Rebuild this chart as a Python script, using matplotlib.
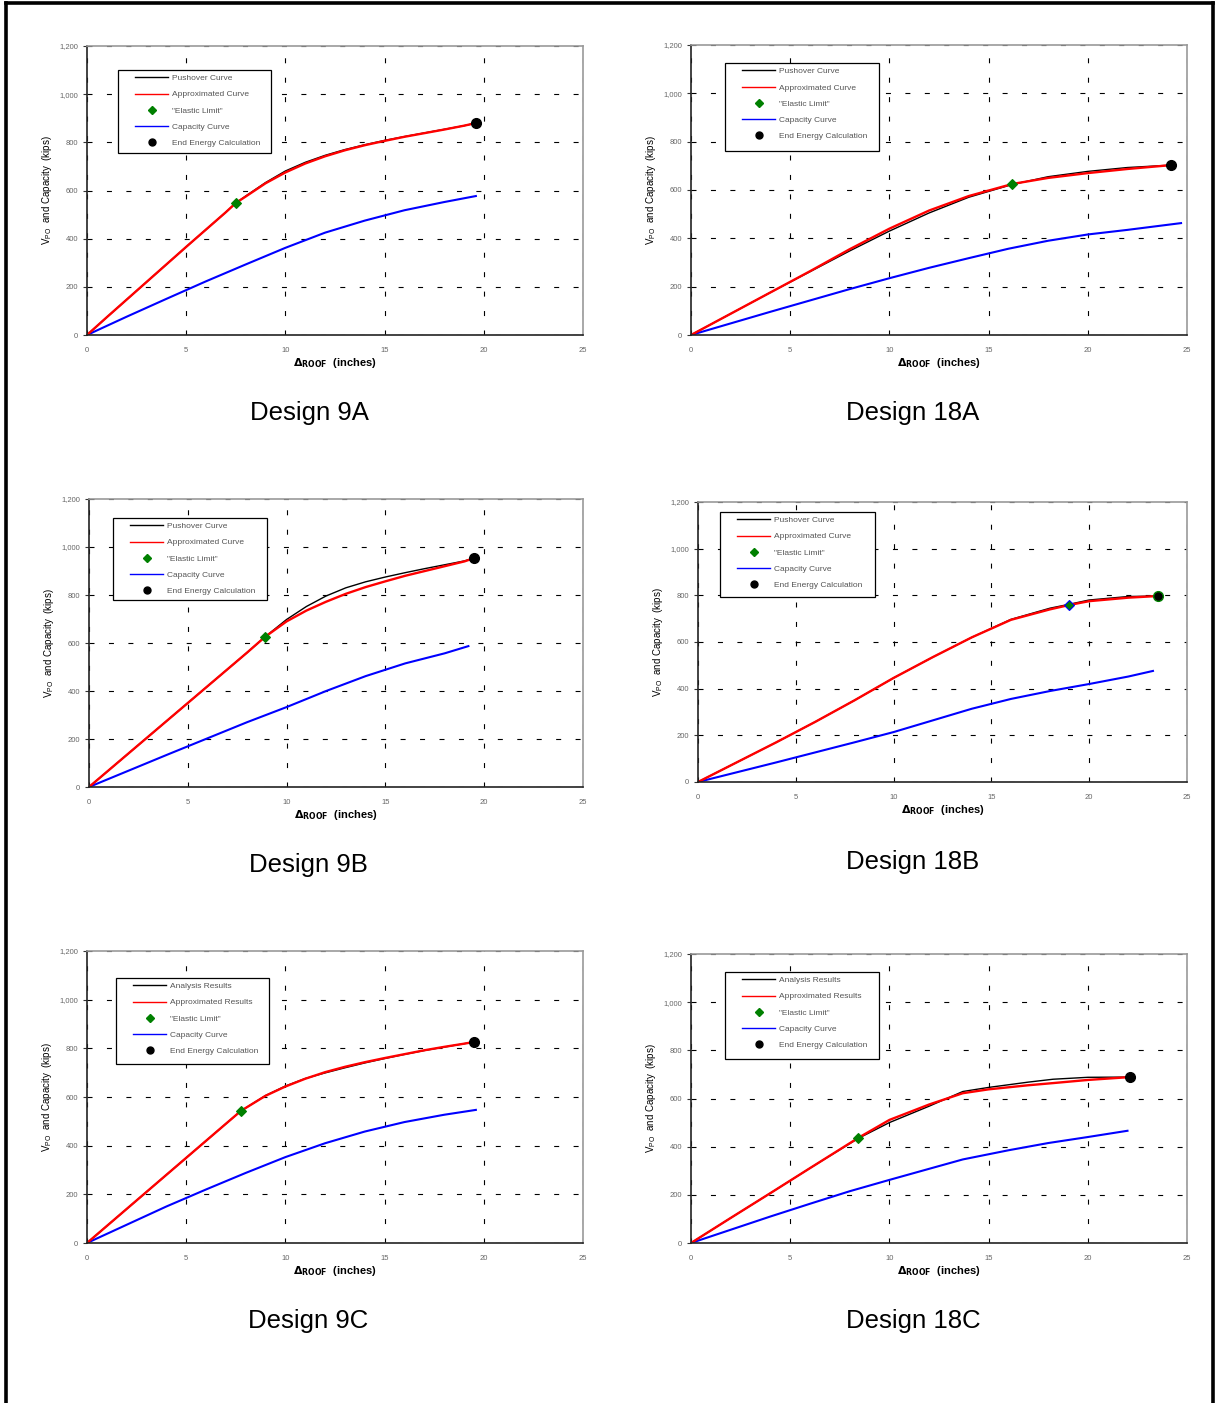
import matplotlib.pyplot as plt
from matplotlib.lines import Line2D
from matplotlib.patches import Rectangle
from matplotlib.ticker import FuncFormatter

plt.rcParams['font.family'] = ['Liberation Sans', 'DejaVu Sans']

# ---- data (x in inches, y in kips) ----
# Design 9A
d9a_x = [0, 1, 2, 3, 4, 5, 6, 7, 7.5, 8, 9, 10, 11, 12, 13, 14, 15, 16, 17, 18, 19, 19.6]
d9a_push = [0, 74, 147, 220, 293, 366, 438, 510, 548, 577, 633, 681, 717, 746, 770, 790, 808, 824, 839, 854, 869, 880]
d9a_approx = [0, 74, 147, 220, 293, 366, 438, 510, 548, 575, 630, 675, 712, 742, 767, 788, 806, 823, 838, 853, 869, 880]
d9a_cap_x = [0, 2, 4, 6, 8, 10, 12, 14, 16, 18, 19.6]
d9a_cap = [0, 76, 150, 223, 293, 362, 425, 475, 518, 552, 577]
d9a_elastic = (7.5, 548)
d9a_end = (19.6, 880)

# Design 18A
d18a_x = [0, 2, 4, 6, 8, 10, 12, 14, 16.2, 18, 20, 22, 24.2]
d18a_push = [0, 88, 176, 262, 348, 430, 505, 570, 623, 655, 677, 693, 703]
d18a_approx = [0, 88, 176, 264, 355, 440, 515, 575, 625, 650, 670, 687, 703]
d18a_cap_x = [0, 2, 4, 6, 8, 10, 12, 14, 16, 18, 20, 22, 24.7]
d18a_cap = [0, 48, 96, 143, 190, 235, 278, 318, 357, 390, 416, 435, 463]
d18a_elastic = (16.2, 625)
d18a_end = (24.2, 703)

# Design 9B
d9b_x = [0, 1, 2, 3, 4, 5, 6, 7, 8, 8.9, 10, 11, 12, 13, 14, 15, 16, 17, 18, 19, 19.5]
d9b_push = [0, 70, 140, 210, 280, 350, 420, 490, 560, 625, 698, 752, 796, 830, 855, 875, 893, 910, 926, 942, 954]
d9b_approx = [0, 70, 140, 210, 280, 350, 420, 490, 560, 625, 690, 735, 772, 805, 833, 857, 880, 900, 920, 940, 954]
d9b_cap_x = [0, 2, 4, 6, 8, 10, 12, 14, 16, 18, 19.2]
d9b_cap = [0, 68, 136, 203, 270, 333, 400, 462, 515, 557, 587]
d9b_elastic = (8.9, 625)
d9b_end = (19.5, 954)

# Design 18B
d18b_x = [0, 2, 4, 6, 8, 10, 12, 14, 16, 18, 19, 20, 22, 23.5]
d18b_push = [0, 85, 170, 258, 350, 446, 535, 620, 697, 745, 762, 780, 795, 797]
d18b_approx = [0, 85, 170, 258, 350, 446, 535, 620, 695, 740, 759, 775, 790, 797]
d18b_cap_x = [0, 2, 4, 6, 8, 10, 12, 14, 16, 18, 20, 22, 23.26]
d18b_cap = [0, 42, 84, 127, 170, 214, 264, 314, 356, 390, 420, 452, 476]
d18b_elastic = (18.97, 759)
d18b_end = (23.5, 797)

# Design 9C
d9c_x = [0, 1, 2, 3, 4, 5, 6, 7, 7.76, 9, 10, 11, 12, 13, 14, 15, 16, 17, 18, 19, 19.5]
d9c_push = [0, 70, 140, 210, 280, 350, 420, 490, 543, 606, 645, 676, 699, 720, 740, 758, 775, 791, 805, 819, 826]
d9c_approx = [0, 70, 140, 210, 280, 350, 420, 490, 543, 605, 643, 675, 702, 724, 743, 760, 776, 792, 806, 819, 826]
d9c_cap_x = [0, 2, 4, 6, 8, 10, 12, 14, 16, 18, 19.6]
d9c_cap = [0, 75, 150, 220, 288, 353, 410, 458, 497, 527, 547]
d9c_elastic = (7.76, 543)
d9c_end = (19.5, 826)

# Design 18C
d18c_x = [0, 2, 4, 6, 8.42, 10, 12, 13.7, 15, 17, 18.25, 20, 22.13]
d18c_push = [0, 104, 207, 311, 434, 500, 568, 629, 646, 668, 680, 688, 689]
d18c_approx = [0, 104, 207, 311, 436, 511, 575, 622, 638, 655, 664, 677, 689]
d18c_cap_x = [0, 2, 4, 6, 8, 10, 12, 13.7, 16, 18, 20, 22]
d18c_cap = [0, 55, 110, 163, 215, 262, 308, 347, 385, 415, 440, 466]
d18c_elastic = (8.42, 436)
d18c_end = (22.13, 689)

labels_ab = ['Pushover Curve', 'Approximated Curve', '"Elastic Limit"', 'Capacity Curve', 'End Energy Calculation']
labels_c = ['Analysis Results', 'Approximated Results', '"Elastic Limit"', 'Capacity Curve', 'End Energy Calculation']

W, H = 1215, 1403
fig = plt.figure(figsize=(W / 100, H / 100), dpi=100)


def fx(px):
    return px / W


def fy(py):
    return 1 - py / H


def draw_panel(box, legbox, title_xy, title, x, push, approx, cap_x, cap, elastic, end,
               labels, elastic_edge='green', end_edge='black'):
    left, top, right, bottom = box
    ax = fig.add_axes([fx(left), fy(bottom), fx(right - left), (bottom - top) / H])

    ax.plot(cap_x, cap, color='blue', lw=1.5)
    ax.plot(x, push, color='black', lw=1.0)
    ax.plot(x, approx, color='red', lw=1.7)
    ax.plot(*elastic, marker='D', color='green', markersize=5,
            markeredgecolor=elastic_edge, markeredgewidth=0.8)
    ax.plot(*end, marker='o', color='black', markersize=7,
            markeredgecolor=end_edge, markeredgewidth=1.0)

    ax.set_xlim(0, 25)
    ax.set_ylim(0, 1200)
    ax.set_xticks([0, 5, 10, 15, 20, 25])
    ax.set_yticks(range(0, 1201, 200))
    ax.yaxis.set_major_formatter(FuncFormatter(lambda v, p: f'{int(v):,}'))
    ax.tick_params(labelsize=5.5, labelcolor='#666666', length=3, width=0.8,
                   color='#333333', direction='out')
    ax.tick_params(axis='x', length=0, pad=9)
    ax.grid(True, color='black', lw=0.8, linestyle=(0, (4.5, 13)))
    for side in ['left', 'bottom']:
        ax.spines[side].set_color('#222222')
        ax.spines[side].set_linewidth(1.2)
    for side in ['top', 'right']:
        ax.spines[side].set_color('#999999')
        ax.spines[side].set_linewidth(1.2)

    ax.set_ylabel(r'V$_{\mathregular{PO}}$  and Capacity  (kips)', fontsize=7, labelpad=4)
    ax.set_xlabel(r'$\mathbf{\Delta}_{\mathbf{ROOF}}$  (inches)', fontsize=8,
                  fontweight='bold', labelpad=1)

    handles = [
        Line2D([], [], color='black', lw=1.0),
        Line2D([], [], color='red', lw=1.0),
        Line2D([], [], color='green', marker='D', linestyle='none', markersize=4),
        Line2D([], [], color='blue', lw=1.0),
        Line2D([], [], color='black', marker='o', linestyle='none', markersize=5),
    ]
    x0, y0, x1, y1 = legbox
    fig.add_artist(Rectangle((fx(x0), fy(y1)), fx(x1 - x0), (y1 - y0) / H,
                             transform=fig.transFigure, facecolor='white',
                             edgecolor='black', lw=0.9, zorder=4))
    leg = ax.legend(handles, labels, loc='upper left',
                    bbox_to_anchor=(fx(x0 + 14.5), fy(y0 + 2)),
                    bbox_transform=fig.transFigure, borderaxespad=0,
                    fontsize=6.0, labelcolor='#555555', handlelength=4.0,
                    handletextpad=0.45, labelspacing=1.0, borderpad=0.3,
                    frameon=False)
    leg.set_zorder(5)
    fig.add_artist(leg)

    fig.text(fx(title_xy[0]), fy(title_xy[1] + 2), title, fontsize=18.5,
             ha='center', va='center')
    return ax


draw_panel((87, 46, 583, 335), (118, 70, 271, 153), (309, 411), 'Design 9A',
           d9a_x, d9a_push, d9a_approx, d9a_cap_x, d9a_cap, d9a_elastic, d9a_end, labels_ab)
draw_panel((691, 45, 1187, 335), (725, 63, 879, 151), (913, 411), 'Design 18A',
           d18a_x, d18a_push, d18a_approx, d18a_cap_x, d18a_cap, d18a_elastic, d18a_end, labels_ab)
draw_panel((89, 499, 583, 787), (113, 518, 267, 600), (308, 863), 'Design 9B',
           d9b_x, d9b_push, d9b_approx, d9b_cap_x, d9b_cap, d9b_elastic, d9b_end, labels_ab)
draw_panel((698, 502, 1187, 782), (720, 512, 875, 597), (913, 860), 'Design 18B',
           d18b_x, d18b_push, d18b_approx, d18b_cap_x, d18b_cap, d18b_elastic, d18b_end, labels_ab,
           elastic_edge='blue', end_edge='green')
draw_panel((87, 951, 583, 1243), (116, 978, 269, 1064), (308, 1319), 'Design 9C',
           d9c_x, d9c_push, d9c_approx, d9c_cap_x, d9c_cap, d9c_elastic, d9c_end, labels_c)
draw_panel((691, 954, 1187, 1243), (725, 972, 879, 1059), (913, 1319), 'Design 18C',
           d18c_x, d18c_push, d18c_approx, d18c_cap_x, d18c_cap, d18c_elastic, d18c_end, labels_c)

# page frame (left, top, right edges)
frame_kw = dict(color='black', lw=2.6, transform=fig.transFigure)
fig.add_artist(Line2D([fx(5.5), fx(5.5)], [0, fy(3)], **frame_kw))
fig.add_artist(Line2D([fx(5.5), fx(1212.5)], [fy(3), fy(3)], **frame_kw))
fig.add_artist(Line2D([fx(1212.5), fx(1212.5)], [0, fy(3)], **frame_kw))

fig.savefig('out.png', dpi=100)
